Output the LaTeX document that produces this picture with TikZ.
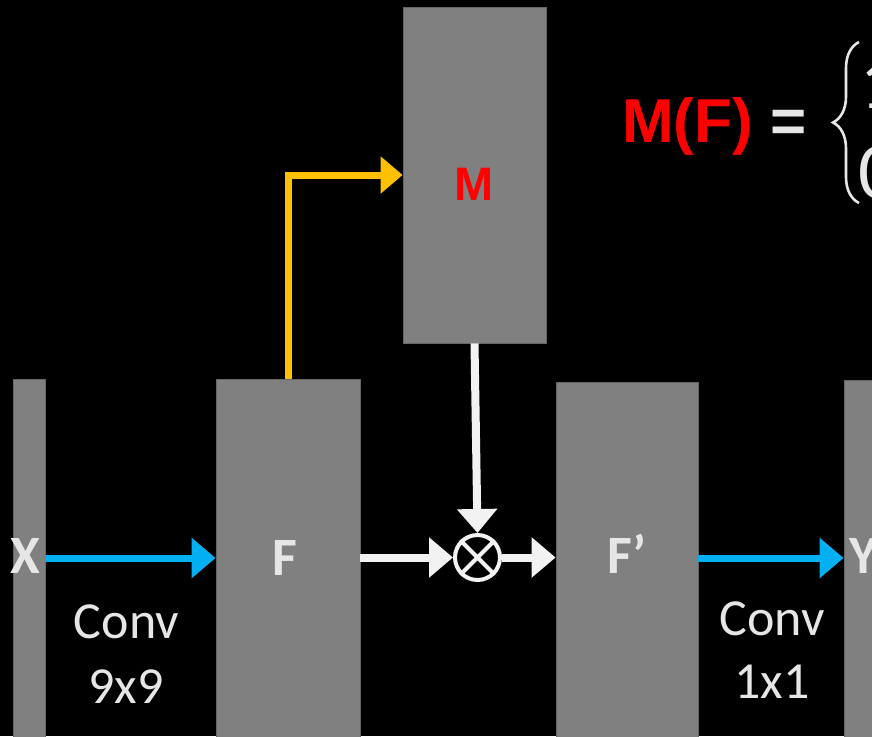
\documentclass[tikz,border=0pt]{standalone}
\usepackage{fontspec}
\setmainfont{Carlito}
\newfontfamily\arialfont{Liberation Sans}
\usetikzlibrary{arrows.meta,decorations.pathreplacing}
\definecolor{boxgray}{HTML}{808080}
\definecolor{boxedge}{HTML}{666666}
\definecolor{cblue}{HTML}{00B0F0}
\definecolor{cyellow}{HTML}{FFC000}
\definecolor{cwhite}{HTML}{F2F2F2}
\definecolor{ctext}{HTML}{E6E6E6}
\definecolor{cred}{HTML}{FF0000}
\begin{document}
\begin{tikzpicture}[x=1pt,y=-1pt,
  box/.style={rectangle, fill=boxgray, draw=boxedge, line width=0.8pt, inner sep=0pt},
  bluearr/.style={draw=cblue, line width=7pt, -{Triangle[length=24pt,width=39pt]}},
  whitearr/.style={draw=cwhite, line width=8pt, -{Triangle[length=24pt,width=39pt]}},
  yelarr/.style={draw=cyellow, line width=7pt, -{Triangle[length=22pt,width=36pt]}},
  convlbl/.style={text=ctext, font=\fontsize{52}{60}\selectfont, inner sep=0pt, anchor=base},
  varlbl/.style={text=ctext, font=\bfseries\fontsize{54}{60}\selectfont, inner sep=0pt, anchor=base},
  mult/.style={circle, draw=cwhite, line width=4pt, minimum size=45pt, inner sep=0pt}
]
\useasboundingbox (0,0) rectangle (872,736);
\clip (0,0) rectangle (872,736);
\fill[black] (0,0) rectangle (872,736);

% feature maps
\node[box, minimum width=32pt, minimum height=361pt] (xbar) at (29,559.5) {};
\node[box, minimum width=144pt, minimum height=361pt] (fbox) at (288,559.5) {};
\node[box, minimum width=143pt, minimum height=336pt] (mbox) at (474.5,175) {};
\node[box, minimum width=142pt, minimum height=358pt] (fpbox) at (627,561) {};
\node[box, minimum width=46pt, minimum height=360pt] (ybox) at (867,560) {};

\coordinate (lvl) at (0,558);

% multiply node
\node[mult] (circ) at (477.5,557.5) {};
\draw[cwhite, line width=4pt] (circ.north west) -- (circ.south east)
                              (circ.north east) -- (circ.south west);

% connectors
\draw[bluearr] (xbar.east |- lvl) -- (fbox.west |- lvl);
\draw[bluearr] (fpbox.east |- lvl) -- (ybox.west |- lvl);
\draw[yelarr] (fbox.north) |- (mbox.west);
\draw[whitearr] (mbox.south) -- (circ.north);
\draw[whitearr] (fbox.east |- circ) -- (circ.west);
\draw[whitearr] (circ.east) -- (circ.east -| fpbox.west);

% labels
\node[varlbl] (xl) at (25,573) {X};
\node[varlbl] (fl) at (285,575) {F};
\node[varlbl] (fpl) at (627,573) {F’};
\node[varlbl, anchor=base west] (yl) at (849,573) {Y};
\node[text=cred, font=\arialfont\bfseries\fontsize{47}{50}\selectfont, inner sep=0pt, anchor=base] (ml) at (474.5,200) {M};

\node[convlbl] (c1a) at (126.5,638) {Conv};
\node[convlbl] (c1b) at (126,703) {9x9};
\node[convlbl] (c2a) at (772,635) {Conv};
\node[convlbl] (c2b) at (772,698) {1x1};

% formula
\node[font=\arialfont\bfseries\fontsize{62}{66}\selectfont, text=ctext, inner sep=0pt, anchor=base west] (mf) at (622,142) {\textcolor{cred}{M(F)} =};
\draw[ctext, line width=2.6pt, decorate, decoration={brace, amplitude=26pt}] (859,203) -- (859,42);
\node[text=ctext, font=\fontsize{74}{80}\selectfont, inner sep=0pt, anchor=base west] (one) at (860,108) {1};
\node[text=ctext, font=\fontsize{80}{80}\selectfont, inner sep=0pt, anchor=base west] (zero) at (858,198) {0};
\end{tikzpicture}
\end{document}
